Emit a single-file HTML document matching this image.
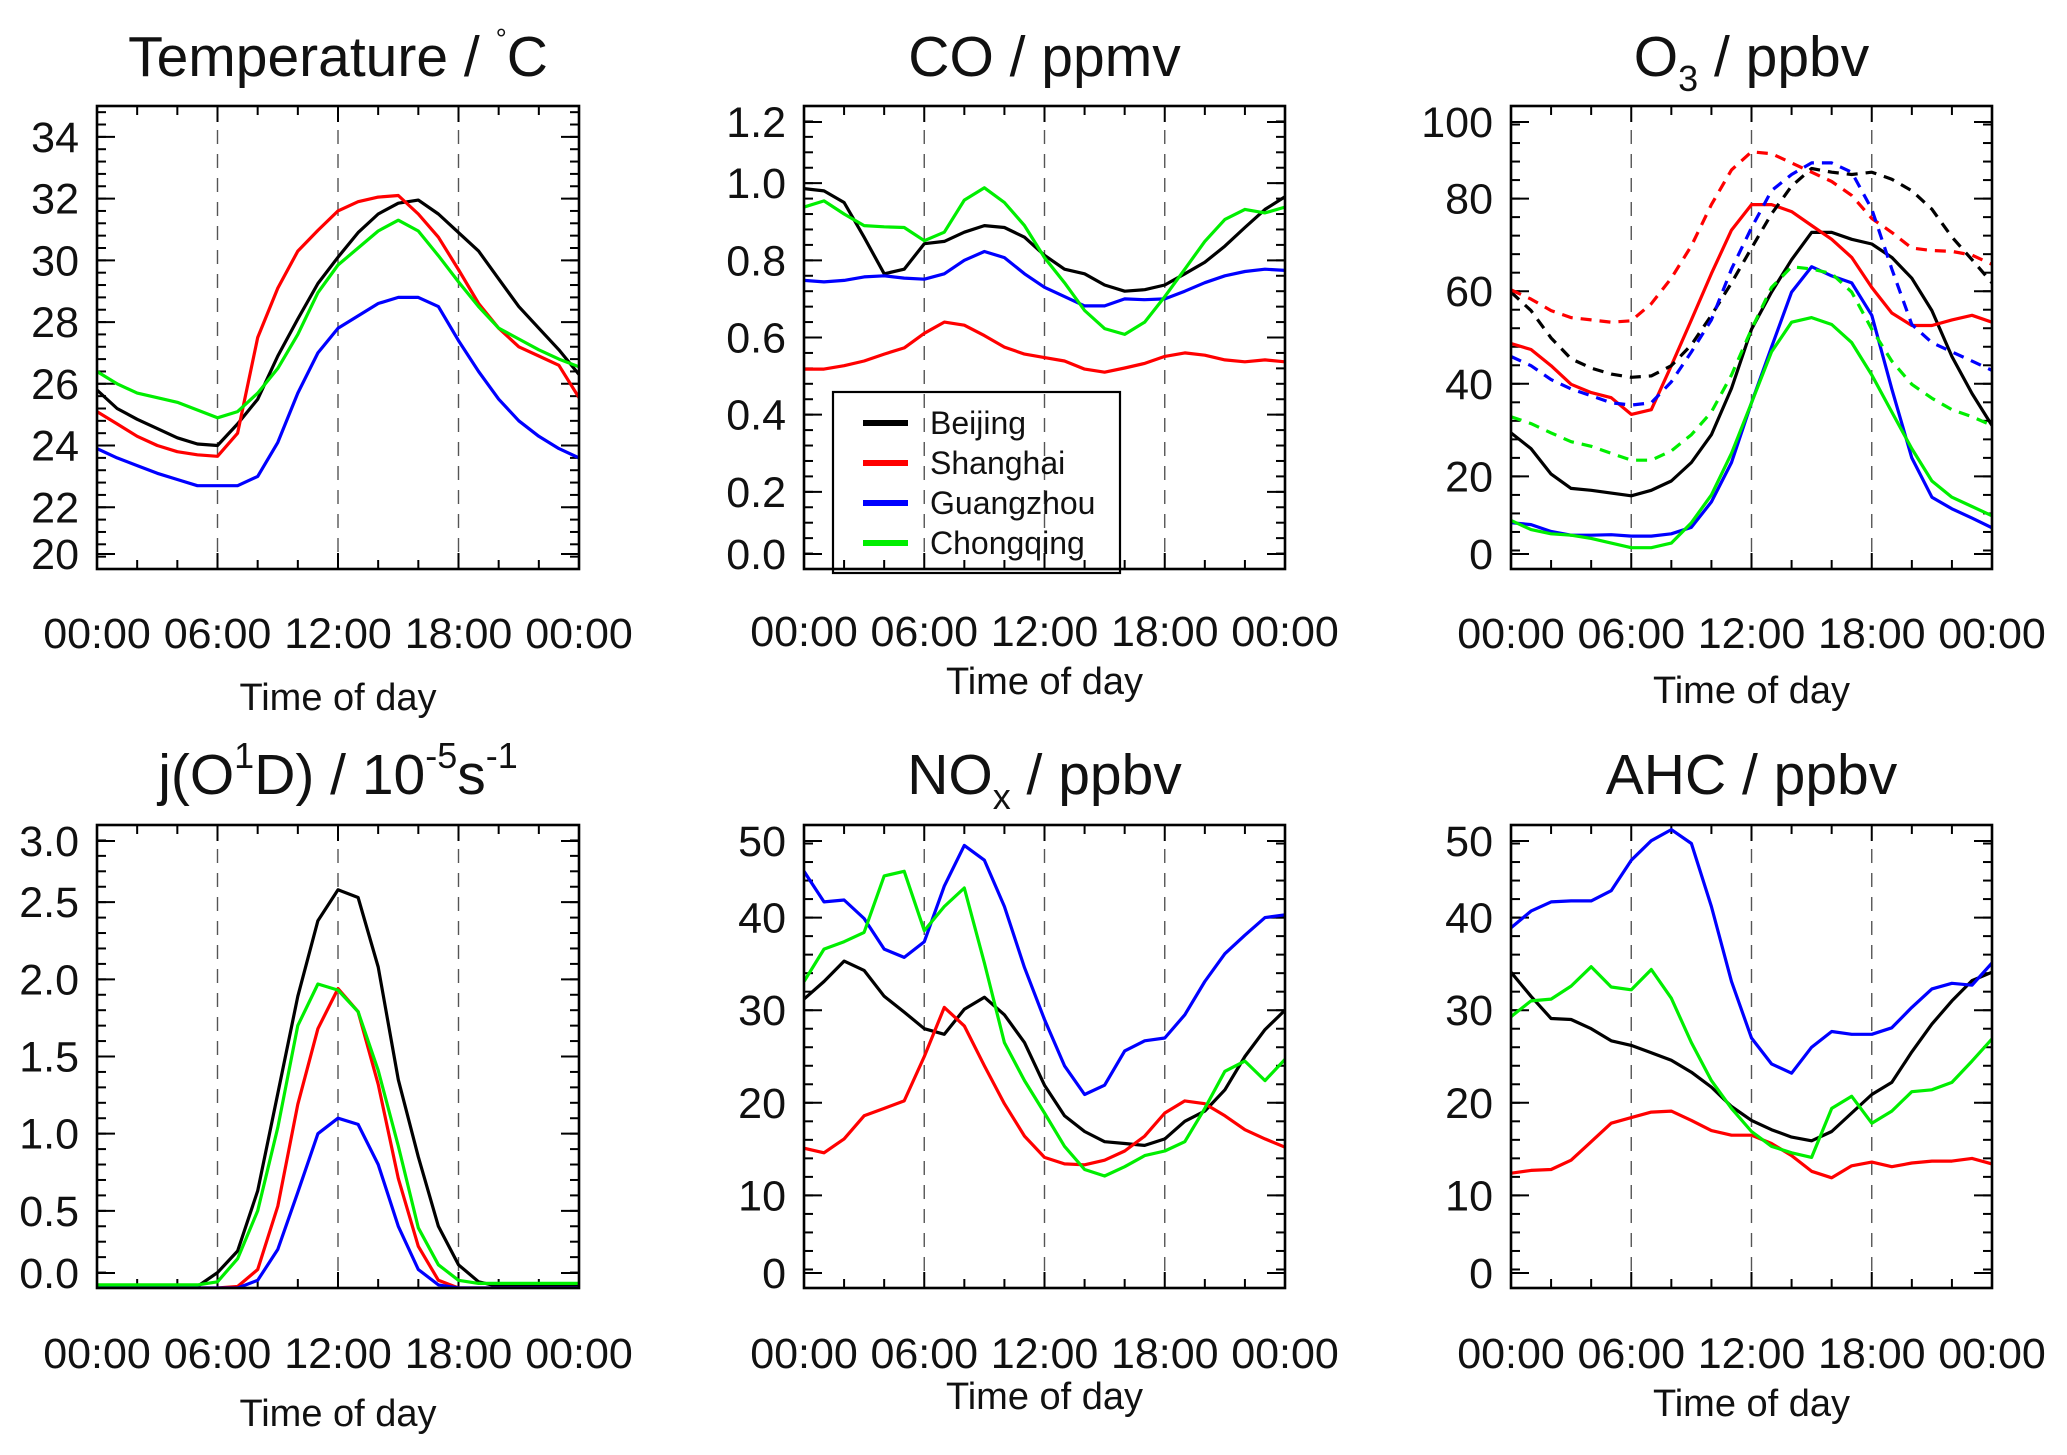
<!DOCTYPE html>
<html><head><meta charset="utf-8">
<style>
html,body{margin:0;padding:0;background:#fff;}
svg{display:block;font-family:"Liberation Sans",Arial,sans-serif;}
</style></head>
<body>
<svg id="fig" width="2067" height="1455" viewBox="0 0 2067 1455" xmlns="http://www.w3.org/2000/svg">
<rect width="2067" height="1455" fill="#fff"/>
</svg>
<script>
// ---------- data ----------
const hours = [0,1,2,3,4,5,6,7,8,9,10,11,12,13,14,15,16,17,18,19,20,21,22,23,24];
const cities = ["Beijing","Shanghai","Guangzhou","Chongqing"];
const cityColors = ["#000000","#ff0000","#0000ff","#00ee00"];
const timeTickLabels = ["00:00","06:00","12:00","18:00","00:00"];

const tempBeijing   = [25.8,25.2,24.85,24.55,24.25,24.05,24.0,24.7,25.5,26.9,28.1,29.25,30.1,30.9,31.5,31.85,31.95,31.5,30.9,30.3,29.4,28.5,27.8,27.1,26.3];
const tempShanghai  = [25.1,24.7,24.3,24.0,23.8,23.7,23.65,24.4,27.5,29.1,30.3,30.97,31.6,31.9,32.05,32.1,31.5,30.75,29.7,28.6,27.8,27.2,26.9,26.6,25.55];
const tempGuangzhou = [23.9,23.6,23.35,23.1,22.9,22.7,22.7,22.7,23.0,24.1,25.7,27.0,27.8,28.2,28.6,28.8,28.8,28.5,27.4,26.4,25.5,24.8,24.3,23.9,23.6];
const tempChongqing = [26.4,26.0,25.7,25.55,25.4,25.15,24.9,25.1,25.7,26.5,27.6,28.95,29.85,30.4,30.95,31.3,30.95,30.15,29.3,28.5,27.8,27.45,27.1,26.8,26.55];

const coBeijing   = [0.986,0.98,0.95,0.86,0.765,0.777,0.843,0.849,0.873,0.89,0.885,0.86,0.813,0.777,0.765,0.736,0.72,0.724,0.736,0.765,0.795,0.837,0.885,0.932,0.965];
const coShanghai  = [0.518,0.518,0.527,0.539,0.557,0.573,0.611,0.64,0.632,0.605,0.575,0.557,0.548,0.539,0.518,0.51,0.521,0.533,0.551,0.56,0.554,0.542,0.537,0.542,0.537];
const coGuangzhou = [0.748,0.744,0.748,0.757,0.76,0.754,0.751,0.765,0.8,0.823,0.807,0.765,0.73,0.706,0.682,0.682,0.7,0.698,0.7,0.72,0.742,0.76,0.771,0.777,0.774];
const coChongqing = [0.938,0.954,0.92,0.89,0.887,0.885,0.851,0.873,0.956,0.988,0.95,0.89,0.807,0.742,0.67,0.623,0.608,0.64,0.706,0.777,0.849,0.906,0.932,0.923,0.938];

const o3Beijing   = [29.4,26,20.5,17.4,17,16.4,15.8,17,19,23,29,39,51.8,59.8,66.8,72.7,72.7,71.2,70.2,67.3,62.8,55.8,45.9,37.9,31];
const o3Shanghai  = [48.7,47.4,43.9,39.9,38.1,37,33.4,34.4,43.9,53.8,63.8,73.2,78.7,78.7,77.2,74.2,71.2,67.3,60.8,55.3,52.6,52.6,53.8,54.8,53.3];
const o3Guangzhou = [10,9.6,8.1,7.3,7.3,7.4,7.1,7.1,7.6,9,14.5,23,35.9,47.9,59.8,65.3,63.3,61.8,54.8,38.9,24,15.5,13,11,8.9];
const o3Chongqing = [10.5,8.5,7.6,7.3,6.6,5.6,4.6,4.6,5.6,10,16,25,35.9,46.9,53.3,54.3,52.8,48.9,41.9,33.9,26,19,15.5,13.5,11.5];
const o3BeijingB   = [59.8,55.8,49.9,45.4,43.4,42.1,41.4,41.7,43.9,48.4,54.8,61.8,69.3,76.7,82.7,86.5,85.7,85.2,85.7,84.2,81.7,77.7,71.7,66.8,61.8];
const o3ShanghaiB  = [60.3,58.3,55.8,54.3,53.8,53.3,53.6,57.3,62.8,69.8,78.7,86.2,90.1,89.7,87.7,85.7,83.7,80.7,75.7,72.7,69.3,68.8,68.6,67.8,65.8];
const o3GuangzhouB = [45.9,43.9,40.9,38.9,37.4,35.9,35.4,35.9,40.4,46.9,53.8,64.8,73.7,81.7,85.2,87.7,87.7,85.7,77.7,64.8,52.8,48.9,46.9,44.9,42.9];
const o3ChongqingB = [32.9,31.4,29.4,27.5,26.5,25,23.5,23.5,25.5,29,33.9,41.9,51.8,60.8,65.3,64.8,63.8,59.8,51.8,44.9,39.9,36.9,34.4,32.9,31];

const jBeijing   = [0.01,0.01,0.01,0.01,0.01,0.01,0.1,0.24,0.63,1.26,1.89,2.38,2.58,2.53,2.08,1.35,0.85,0.4,0.15,0.04,0.01,0.01,0.01,0.01,0.01];
const jShanghai  = [0,0,0,0,0,0,0,0.01,0.12,0.53,1.19,1.68,1.94,1.79,1.32,0.71,0.27,0.05,0,0,0,0,0,0,0];
const jGuangzhou = [0,0,0,0,0,0,0,0,0.05,0.25,0.62,1.0,1.1,1.06,0.8,0.4,0.12,0.02,0,0,0,0,0,0,0];
const jChongqing = [0.02,0.02,0.02,0.02,0.02,0.02,0.04,0.19,0.5,1.04,1.7,1.97,1.93,1.79,1.41,0.92,0.39,0.15,0.05,0.03,0.03,0.03,0.03,0.03,0.03];

const noxBeijing   = [31.2,33.1,35.3,34.3,31.5,29.8,28,27.4,30.1,31.4,29.5,26.5,21.9,18.6,16.9,15.8,15.6,15.4,16.1,18,19.1,21.4,25,27.9,30];
const noxShanghai  = [15.1,14.6,16.1,18.6,19.4,20.2,25,30.3,28.3,24,19.9,16.4,14.1,13.4,13.3,13.8,14.8,16.4,18.9,20.2,19.9,18.6,17.1,16.1,15.2];
const noxGuangzhou = [45,41.7,41.9,39.9,36.6,35.7,37.4,43.4,47.8,46.2,41.2,34.6,29,24,20.9,21.9,25.6,26.7,27,29.5,33.1,36.1,38.1,40,40.3];
const noxChongqing = [33.1,36.6,37.4,38.4,44.5,45,38.6,41.2,43.2,35.1,26.5,22.4,18.9,15.3,12.8,12.1,13.1,14.3,14.8,15.8,19.4,23.4,24.5,22.4,24.7];

const ahcBeijing   = [34.1,31.5,29.1,29,28,26.7,26.2,25.4,24.6,23.3,21.7,19.6,18.1,17.1,16.3,15.9,16.9,18.9,20.9,22.2,25.5,28.5,31,33.2,34.1];
const ahcShanghai  = [12.4,12.7,12.8,13.8,15.8,17.8,18.4,19,19.1,18.1,17,16.5,16.5,15.6,14.3,12.6,11.9,13.2,13.6,13.1,13.5,13.7,13.7,14,13.4];
const ahcGuangzhou = [38.9,40.7,41.7,41.8,41.8,42.9,46.2,48.3,49.5,48,41.2,33.1,27,24.2,23.2,26,27.7,27.4,27.4,28.1,30.3,32.3,32.9,32.7,35.1];
const ahcChongqing = [29.3,31,31.2,32.6,34.7,32.5,32.2,34.4,31.3,26.5,22.4,19.4,16.9,15.3,14.6,14.1,19.4,20.7,17.8,19.1,21.2,21.4,22.2,24.5,26.9];

const tempTicks = [20,22,24,26,28,30,32,34];
const coTicks = [0,0.2,0.4,0.6,0.8,1.0,1.2];
const o3Ticks = [0,20,40,60,80,100];
const jTicks = [0,0.5,1.0,1.5,2.0,2.5,3.0];
const noxTicks = [0,10,20,30,40,50];
const ahcTicks = [0,10,20,30,40,50];

// ---------- drawing ----------
const NS = "http://www.w3.org/2000/svg";
const svg = document.getElementById("fig");
function mk(tag, attrs, parent){
  const e = document.createElementNS(NS, tag);
  for (const k in attrs) e.setAttribute(k, attrs[k]);
  (parent||svg).appendChild(e);
  return e;
}

function panel(cfg){
  const g = mk("g", {});
  
  
  const L=cfg.x0, R=cfg.x1, T=cfg.y0, B=cfg.y1;
  const xs = h => L + (R-L)*h/24;
  const ys = v => B - (B-T)*(v-cfg.min)/(cfg.max-cfg.min);
  [6,12,18].forEach(h=>{
    const d = mk("line",{x1:xs(h),x2:xs(h),y1:T,y2:B,stroke:"#555","stroke-width":1.4,"stroke-dasharray":"14,10"},g);
    
    
  });
  for (let v=cfg.min; v<=cfg.max+1e-9; v+=cfg.minor){
    const y=ys(v);
    if (y<T+3||y>B-3) continue;
    mk("line",{x1:L,x2:L+9,y1:y,y2:y,stroke:"#000","stroke-width":2},g);
    mk("line",{x1:R-9,x2:R,y1:y,y2:y,stroke:"#000","stroke-width":2},g);
  }
  cfg.ticks.forEach(v=>{
    let y=ys(v);
    if (y>B-14) y=B-15;
    if (y<T+14) y=T+16;
    mk("line",{x1:L,x2:L+18,y1:y,y2:y,stroke:"#000","stroke-width":2},g);
    mk("line",{x1:R-18,x2:R,y1:y,y2:y,stroke:"#000","stroke-width":2},g);
    const t = mk("text",{x:L-18,y:y+15,"text-anchor":"end","font-size":43,fill:"#111"},g);
    t.textContent = cfg.fmt(v);
    
    
  });
  for (let h=0; h<=24; h+=2){
    const len = (h%6===0)?16:9;
    mk("line",{x1:xs(h),x2:xs(h),y1:B,y2:B-len,stroke:"#000","stroke-width":2},g);
    mk("line",{x1:xs(h),x2:xs(h),y1:T,y2:T+len,stroke:"#000","stroke-width":2},g);
  }
  timeTickLabels.forEach((lab,i)=>{
    const t = mk("text",{x:xs(i*6),y:cfg.tly,"text-anchor":"middle","font-size":43,fill:"#111"},g);
    t.textContent = lab;
    
    
  });
  const xt = mk("text",{x:(L+R)/2,y:cfg.xty,"text-anchor":"middle","font-size":38,fill:"#111"},g);
  xt.textContent = "Time of day";
  
  
  const clip = mk("clipPath",{id:"clip-"+cfg.name},g);
  mk("rect",{x:L,y:T,width:R-L,height:B-T},clip);
  cfg.series.forEach(s=>{
    const pts = hours.map((h,i)=>xs(h).toFixed(1)+","+ys(s.data[i]).toFixed(1)).join(" ");
    const a = {points:pts,fill:"none",stroke:s.color,"stroke-width":3.2,"stroke-linejoin":"round","clip-path":"url(#clip-"+cfg.name+")"};
    if (s.dash) a["stroke-dasharray"]="11,8";
    const p = mk("polyline",a,g);
    
    
  });
  const f = mk("rect",{x:L,y:T,width:R-L,height:B-T,fill:"none",stroke:"#000","stroke-width":2.6},g);
  
  
  const tt = mk("text",{x:(L+R)/2,y:cfg.titleY,"text-anchor":"middle","font-size":57,fill:"#111"},g);
  tt.innerHTML = cfg.title;
  
  
}

function ser(prefix, arrs, dash){
  return arrs.map((a,i)=>({data:a,color:cityColors[i],dash:dash,label:prefix+'-'+cities[i].toLowerCase()+(dash?'-dashed':'')+'-line'}));
}
const f0 = v=>String(v), f1 = v=>v.toFixed(1);

panel({name:"temperature",x0:97,x1:579,y0:106,y1:569,min:20,max:35,minor:0.4,ticks:tempTicks,fmt:f0,tly:648,xty:710,titleY:76,
  title:'Temperature / <tspan dy="-28" font-size="28">°</tspan><tspan dy="28">C</tspan>',
  series:ser("temperature",[tempBeijing,tempShanghai,tempGuangzhou,tempChongqing],false)});
panel({name:"co",x0:804,x1:1285,y0:106,y1:569,min:0,max:1.2,minor:0.04,ticks:coTicks,fmt:f1,tly:646,xty:694,titleY:76,
  title:'CO / ppmv',
  series:ser("co",[coBeijing,coShanghai,coGuangzhou,coChongqing],false)});
panel({name:"o3",x0:1511,x1:1992,y0:106,y1:569,min:0,max:100,minor:4,ticks:o3Ticks,fmt:f0,tly:648,xty:703,titleY:76,
  title:'O<tspan dy="15" font-size="36">3</tspan><tspan dy="-15"> / ppbv</tspan>',
  series:ser("o3",[o3Beijing,o3Shanghai,o3Guangzhou,o3Chongqing],false).concat(ser("o3",[o3BeijingB,o3ShanghaiB,o3GuangzhouB,o3ChongqingB],true))});
panel({name:"jo1d",x0:97,x1:579,y0:825,y1:1288,min:0,max:3,minor:0.1,ticks:jTicks,fmt:f1,tly:1368,xty:1426,titleY:794,
  title:'j(O<tspan dy="-26" font-size="36">1</tspan><tspan dy="26">D) / 10</tspan><tspan dy="-26" font-size="36">-5</tspan><tspan dy="26">s</tspan><tspan dy="-26" font-size="36">-1</tspan>',
  series:ser("jo1d",[jBeijing,jShanghai,jGuangzhou,jChongqing],false)});
panel({name:"nox",x0:804,x1:1285,y0:825,y1:1288,min:0,max:50,minor:2,ticks:noxTicks,fmt:f0,tly:1368,xty:1409,titleY:794,
  title:'NO<tspan dy="15" font-size="36">x</tspan><tspan dy="-15"> / ppbv</tspan>',
  series:ser("nox",[noxBeijing,noxShanghai,noxGuangzhou,noxChongqing],false)});
panel({name:"ahc",x0:1511,x1:1992,y0:825,y1:1288,min:0,max:50,minor:2,ticks:ahcTicks,fmt:f0,tly:1368,xty:1416,titleY:794,
  title:'AHC / ppbv',
  series:ser("ahc",[ahcBeijing,ahcShanghai,ahcGuangzhou,ahcChongqing],false)});

const lg = mk("g",{});


mk("rect",{x:833,y:392,width:287,height:181,fill:"none",stroke:"#000","stroke-width":2.2},lg);
cities.forEach((c,i)=>{
  const y = 423 + i*40;
  const ln = mk("line",{x1:863,x2:908,y1:y,y2:y,stroke:cityColors[i],"stroke-width":6},lg);
  
  
  const t = mk("text",{x:930,y:y+11,"font-size":32,fill:"#111"},lg);
  t.textContent = c;
  
  
});
</script>
</body></html>
